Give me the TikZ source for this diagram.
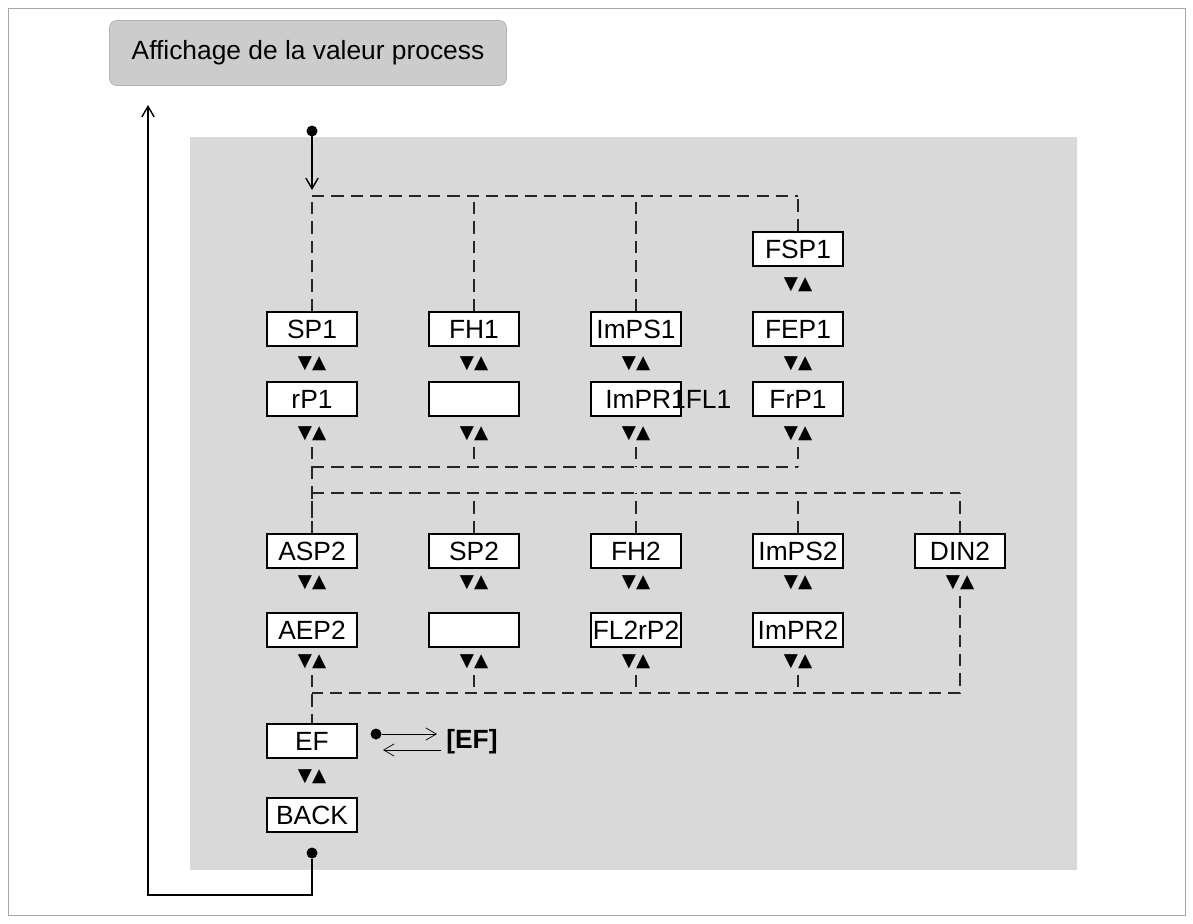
\documentclass[tikz,border=0pt]{standalone}
\usepackage{fontspec}
\setmainfont{Liberation Sans}
\newfontfamily\symfont{DejaVu Sans}
\usetikzlibrary{positioning,arrows.meta}
\begin{document}
\begin{tikzpicture}[x=0.02cm,y=-0.02cm,>={Straight Barb[length=6pt,width=7pt]},
    box/.style={draw,very thick,fill=white,minimum width=1.8cm,minimum height=0.68cm,inner sep=0pt,font=\fontsize{15}{16}\selectfont},
    tri/.style={font=\symfont\fontsize{10.5}{11}\selectfont,inner sep=0pt},
    bus/.style={thick,gray!30!black,dash pattern=on 7pt off 4pt},
    dot/.style={circle,fill=black,inner sep=0pt,minimum size=0.22cm}]
  \useasboundingbox (0,0) rectangle (1193,923);
  \draw[gray!70] (8,8) rectangle (1185,915);
  \fill[gray!30] (190,137) rectangle (1077,870);
  \node[draw=gray!60,fill=gray!40,rounded corners=4pt,minimum width=7.94cm,minimum height=1.3cm,font=\fontsize{15}{16}\selectfont]
    (title) at (308,53) {Affichage de la valeur process};

  % upper menu
  \foreach \n/\t/\x/\y in {sp1/SP1/312/329, rp1/rP1/312/399, fh1/FH1/474/329, fh1b//474/399,
      imps1/ImPS1/636/329, fsp1/FSP1/798/249, fep1/FEP1/798/329, frp1/FrP1/798/399} {
    \node[box] (\n) at (\x,\y) {\t};
  }
  \node[box] (impr1) at (636,399) {};
  \node[anchor=west,inner sep=0pt,font=\fontsize{15}{16}\selectfont] at ([xshift=0.3cm]impr1.west) {ImPR1FL1};
  \foreach \x/\y in {312/364,312/434,474/364,474/434,636/364,636/434,798/285,798/364,798/434} {
    \node[tri] at (\x,\y) {▼▲};
  }
  \coordinate (start) at (312,131);
  \node[dot] at (start) {};
  \draw[->,thick] (start) -- (312,190);
  \draw[bus] (312,196) -- (798,196);
  \foreach \n in {sp1,fh1,imps1,fsp1} { \draw[bus] (\n.north) -- (\n.north |- 0,196); }
  \foreach \x in {312,474,636,798} { \draw[bus] (\x,447) -- (\x,467); }
  \draw[bus] (312,467) -- (798,467);
  \draw[bus] (312,467) -- (312,535);
  \draw[bus] (312,493) -- (960,493);

  % lower menu
  \foreach \n/\t/\x in {asp2/ASP2/312, sp2/SP2/474, fh2/FH2/636, imps2/ImPS2/798, din2/DIN2/960} {
    \node[box] (\n) at (\x,551) {\t};
    \draw[bus] (\n.north) -- (\n.north |- 0,493);
  }
  \foreach \n/\t/\x in {aep2/AEP2/312, sp2b//474, fl2/FL2rP2/636, impr2/ImPR2/798} {
    \node[box] (\n) at (\x,630) {\t};
  }
  \foreach \x/\y in {312/583,312/662,474/583,474/662,636/583,636/662,798/583,798/662,960/583} {
    \node[tri] at (\x,\y) {▼▲};
  }
  \foreach \x in {474,636,798} { \draw[bus] (\x,675) -- (\x,693); }
  \draw[bus] (960,596) -- (960,693) -- (312,693);
  \draw[bus] (312,675) -- (312,725);

  % exit
  \node[box] (ef) at (312,741) {EF};
  \node[tri] at (312,777) {▼▲};
  \node[box] (back) at (312,815) {BACK};
  \node[font=\bfseries\fontsize{15}{16}\selectfont,anchor=west,inner sep=0pt] (efl) at (446,742) {[EF]};
  \node[dot] (efdot) at (376,734) {};
  \draw[->] (efdot) -- (437,734);
  \draw[->] (441,750) -- (383,750);
  \node[dot] (end) at (312,853) {};
  \draw[->,thick] (end) -- (312,895) -- (148,895) -- (148,105);
\end{tikzpicture}
\end{document}
